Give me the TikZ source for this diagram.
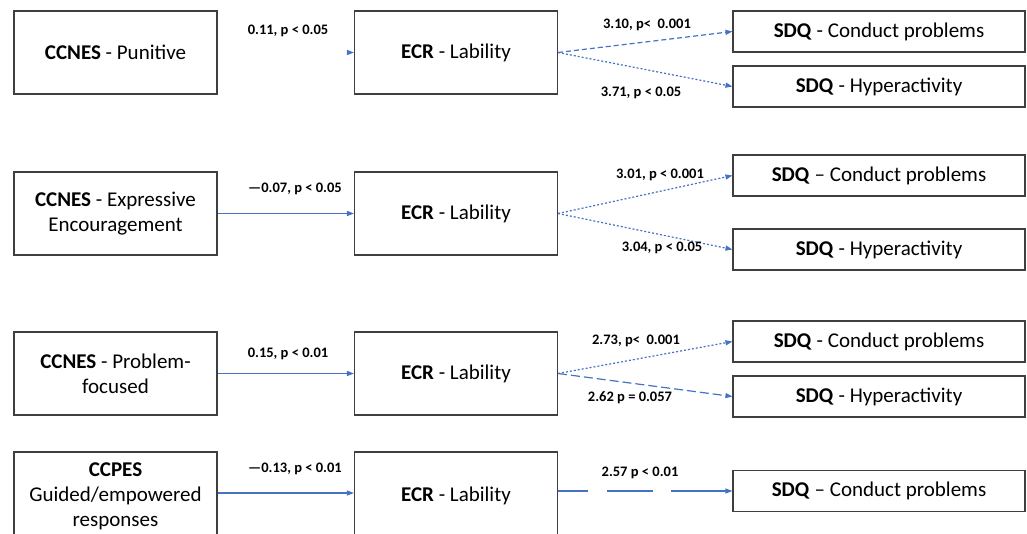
\documentclass[tikz,border=0pt]{standalone}
\usepackage{fontspec}
\setmainfont{Carlito}
\usetikzlibrary{arrows.meta}
\definecolor{pathblue}{HTML}{4472C4}
\definecolor{boxline}{HTML}{3F3F3F}
\tikzset{
  box/.style={draw=boxline, line width=1.1pt, rectangle, minimum width=203pt,
    minimum height=83pt, align=center, inner sep=2pt,
    font=\fontsize{21pt}{25pt}\selectfont},
  outbox/.style={box, minimum width=292pt, minimum height=41pt},
  path/.style={draw=pathblue, line width=1.2pt,
    -{Triangle[length=7pt,width=5pt,color=pathblue]}},
  hidden/.style={path, draw=white},
  coef/.style={font=\fontsize{14.5pt}{16pt}\selectfont\bfseries, inner sep=0pt},
  fine dots/.style={dash pattern=on 2pt off 2pt},
  short dash/.style={dash pattern=on 5pt off 3pt},
  long dash/.style={dash pattern=on 9pt off 4pt},
  gap dash/.style={dash pattern=on 30pt off 19pt on 46pt off 18pt on 80pt off 10pt}
}
\begin{document}
\begin{tikzpicture}[x=1pt,y=-1pt]
\useasboundingbox (0,0) rectangle (1027,533);

% first model: punitive reactions
\node[box] (p1) at (115.5,52.5) {\textbf{CCNES} - Punitive};
\node[box] (e1) at (456,52.5) {\textbf{ECR} - Lability};
\node[outbox] (c1) at (879,31.5) {\textbf{SDQ} - Conduct problems};
\node[outbox] (h1) at (879,86.5) {\textbf{SDQ} - Hyperactivity};
\draw[hidden] (p1) -- (e1);
\draw[path, short dash] (e1.east) -- (c1.west);
\draw[path, fine dots] (e1.east) -- (h1.west);
\node[coef] (l1a) at (288,31) {0.11, p < 0.05};
\node[coef] (l1b) at (647,25) {3.10, p<\ \ 0.001};
\node[coef] (l1c) at (641,93) {3.71, p < 0.05};

% second model: expressive encouragement
\node[box] (p2) at (115.5,213.5) {\textbf{CCNES} - Expressive\\Encouragement};
\node[box] (e2) at (456,213.5) {\textbf{ECR} - Lability};
\node[outbox] (c2) at (879,175.5) {\textbf{SDQ} – Conduct problems};
\node[outbox] (h2) at (879,249.5) {\textbf{SDQ} - Hyperactivity};
\draw[path] (p2) -- (e2);
\draw[path, fine dots] (e2.east) -- (c2.west);
\draw[path, fine dots] (e2.east) -- (h2.west);
\node[coef] (l2a) at (295,189) {—0.07, p < 0.05};
\node[coef] (l2b) at (660,175) {3.01, p < 0.001};
\node[coef] (l2c) at (662,248) {3.04, p < 0.05};

% third model: problem-focused reactions
\node[box] (p3) at (115.5,373.5) {\textbf{CCNES} - Problem-\\focused};
\node[box] (e3) at (456,373.5) {\textbf{ECR} - Lability};
\node[outbox] (c3) at (879,341.5) {\textbf{SDQ} - Conduct problems};
\node[outbox] (h3) at (879,396.5) {\textbf{SDQ} - Hyperactivity};
\draw[path] (p3) -- (e3);
\draw[path, fine dots] (e3.east) -- (c3.west);
\draw[path, long dash] (e3.east) -- (h3.west);
\node[coef] (l3a) at (288,354) {0.15, p < 0.01};
\node[coef] (l3b) at (636,341) {2.73, p<\ \ 0.001};
\node[coef] (l3c) at (630,398) {2.62 p = 0.057};

% fourth model: guided/empowered responses (boxes run past the lower edge)
\node[box, minimum height=88pt] (p4) at (115.5,496) {\textbf{CCPES}\\Guided/empowered\\responses};
\node[box, minimum height=88pt] (e4) at (456,496) {\textbf{ECR} - Lability};
\node[outbox] (c4) at (879,491) {\textbf{SDQ} – Conduct problems};
\draw[path] (p4.east |- 0,493) -- (e4.west |- 0,493);
\draw[path, gap dash] (e4.east |- c4) -- (c4.west);
\node[coef] (l4a) at (295,469) {—0.13, p < 0.01};
\node[coef] (l4b) at (640,473) {2.57 p < 0.01};
\end{tikzpicture}
\end{document}
